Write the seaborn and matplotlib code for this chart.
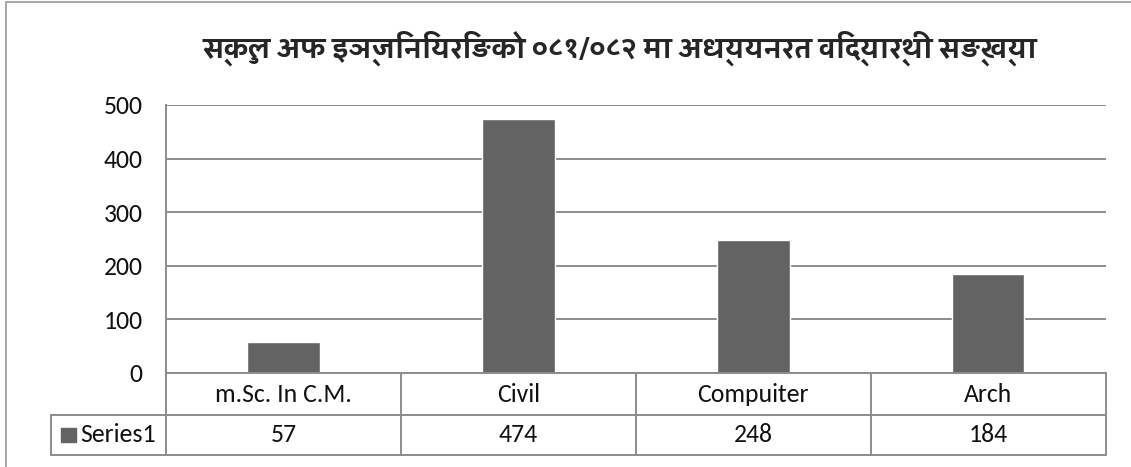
import matplotlib
matplotlib.use('Agg')
import matplotlib.pyplot as plt
import matplotlib.transforms as mtransforms
from matplotlib.lines import Line2D
from matplotlib.patches import Rectangle
import seaborn as sns
import pandas as pd

# data
categories = ['m.Sc. In C.M.', 'Civil', 'Compuiter', 'Arch']
values = [57, 474, 248, 184]
series_name = 'Series1'
title = 'स्कुल अफ इञ्जिनियरिङको ०८१/०८२ मा अध्ययनरत विद्यार्थी सङ्ख्या'
yticks = [0, 100, 200, 300, 400, 500]

df = pd.DataFrame({'category': categories, 'students': values})

sns.set_style('white')
plt.rcParams['font.family'] = ['Carlito', 'Liberation Sans', 'DejaVu Sans']

bar_color = '#636363'
line_color = '#8c8c8c'
W, H = 1131, 467

fig = plt.figure(figsize=(W / 100, H / 100), dpi=100)
ax = fig.add_axes([166 / W, 1 - 373 / H, 939.5 / W, 268 / H])

sns.barplot(data=df, x='category', y='students', color=bar_color,
            width=0.31, saturation=1, ax=ax)

ax.set_ylim(0, 500)
ax.set_xlim(-0.5, len(categories) - 0.5)
ax.set_yticks(yticks)
ax.tick_params(axis='y', length=0, pad=17, labelsize=18.5, labelcolor='#111111')
ax.set_xticks([])
ax.set_xlabel('')
ax.set_ylabel('')
ax.yaxis.grid(True, color=line_color, linewidth=1.4)
ax.set_axisbelow(True)
for s in ['top', 'right', 'bottom']:
    ax.spines[s].set_visible(False)
ax.spines['left'].set_color(line_color)
ax.spines['left'].set_linewidth(1.4)

# data table under the axis
row1 = -42 / 268
row2 = -82 / 268
head_left = -115 / 939.5
trans = mtransforms.blended_transform_factory(ax.transData, ax.transAxes)
kw = dict(color=line_color, linewidth=1.4, clip_on=False)

ax.plot([0, 1], [0, 0], transform=ax.transAxes, **kw)
ax.plot([head_left, 1], [row1, row1], transform=ax.transAxes, **kw)
ax.plot([head_left, 1], [row2, row2], transform=ax.transAxes, **kw)
ax.plot([head_left, head_left], [row1, row2], transform=ax.transAxes, **kw)
for b in range(len(categories) + 1):
    ax.plot([b - 0.5, b - 0.5], [0, row2], transform=trans, **kw)

for i, (c, v) in enumerate(zip(categories, values)):
    ax.text(i, row1 / 2, c, transform=trans, ha='center', va='center',
            fontsize=18.5, color='#111111')
    ax.text(i, (row1 + row2) / 2, str(v), transform=trans, ha='center',
            va='center', fontsize=18.5, color='#111111')

ax.add_patch(Rectangle((head_left + 10 / 939.5, (row1 + row2) / 2 - 7 / 268),
                       15 / 939.5, 14 / 268, transform=ax.transAxes,
                       color=bar_color, clip_on=False))
ax.text(head_left + 29 / 939.5, (row1 + row2) / 2, series_name,
        transform=ax.transAxes, ha='left', va='center', fontsize=18.5,
        color='#111111')

# outer chart frame (left and top edges visible)
fig.add_artist(Line2D([6 / W, 6 / W], [0, 1 - 1.5 / H], color='#a6a6a6', linewidth=1.4))
fig.add_artist(Line2D([6 / W, 1], [1 - 1.5 / H, 1 - 1.5 / H], color='#a6a6a6', linewidth=1.4))

fig.text(619.5 / W, 1 - 58 / H, title, ha='center', va='baseline',
         fontsize=20, fontweight='bold',
         family=['Sarala', 'Biryani', 'Noto Sans Devanagari', 'DejaVu Sans'])

fig.savefig('out.png', dpi=100)
